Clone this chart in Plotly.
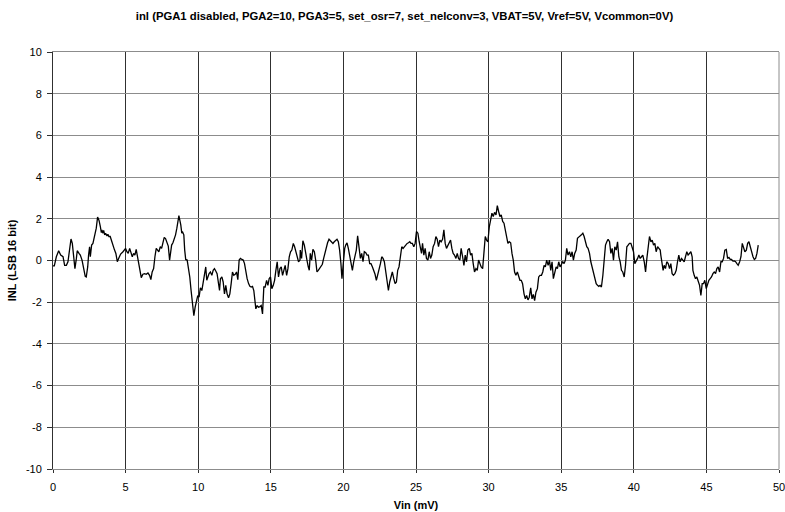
import plotly.graph_objects as go

vin_mv = [
    0.00, 0.09, 0.23, 0.39, 0.53, 0.69, 0.80, 0.92, 1.03, 1.15, 1.24, 1.33, 1.42, 1.51, 1.61, 1.67, 1.79, 1.88, 2.00, 2.11,
    2.22, 2.29, 2.39, 2.45, 2.52, 2.57, 2.66, 2.75, 2.87, 2.98, 3.07, 3.17, 3.26, 3.33, 3.37, 3.44, 3.49, 3.56, 3.62, 3.72,
    3.78, 3.85, 3.94, 4.04, 4.13, 4.24, 4.33, 4.43, 4.52, 4.66, 4.82, 4.93, 5.00, 5.09, 5.18, 5.28, 5.37, 5.46, 5.55, 5.64,
    5.73, 5.83, 5.92, 6.01, 6.08, 6.19, 6.31, 6.42, 6.54, 6.65, 6.74, 6.83, 6.93, 7.02, 7.11, 7.20, 7.29, 7.39, 7.48, 7.57,
    7.66, 7.75, 7.84, 7.94, 8.03, 8.10, 8.17, 8.26, 8.35, 8.44, 8.53, 8.60, 8.67,
    8.80, 8.87, 8.91, 9.01, 9.07, 9.14, 9.24, 9.33, 9.42, 9.51, 9.60, 9.70, 9.79, 9.88, 9.97, 10.06, 10.15, 10.25, 10.34, 10.43,
    10.52, 10.59, 10.66, 10.75, 10.84, 10.94, 11.03, 11.12, 11.21, 11.30, 11.40, 11.47, 11.53, 11.63, 11.72, 11.81, 11.90, 11.99, 12.09, 12.18,
    12.27, 12.36, 12.45, 12.55, 12.64, 12.73, 12.82, 12.91, 13.01, 13.10, 13.19, 13.28, 13.37, 13.47, 13.56, 13.65, 13.74, 13.83, 13.90, 13.97,
    14.06, 14.15, 14.25, 14.34, 14.43, 14.52, 14.61, 14.71, 14.80, 14.89, 14.98, 15.07, 15.17, 15.26, 15.35, 15.44, 15.53, 15.63, 15.72, 15.81,
    15.90, 15.99, 16.09, 16.18, 16.27, 16.36, 16.45, 16.55, 16.64, 16.73, 16.82, 16.91, 17.01,
    17.03, 17.12, 17.21, 17.31, 17.40, 17.49, 17.58, 17.65, 17.72, 17.81, 17.90, 18.00, 18.09, 18.18, 18.27, 18.36, 18.45, 18.55, 18.64, 18.73,
    18.82, 18.91, 19.01, 19.10, 19.19, 19.28, 19.37, 19.47, 19.56, 19.65, 19.74, 19.83, 19.90, 19.97, 20.02, 20.09, 20.16, 20.25, 20.34, 20.43,
    20.52, 20.62, 20.71, 20.80, 20.89, 20.98, 21.08, 21.17, 21.26, 21.35, 21.44, 21.54, 21.63, 21.72, 21.81, 21.90, 22.00, 22.09, 22.18, 22.27,
    22.36, 22.45, 22.55, 22.64, 22.73, 22.82, 22.91, 23.01, 23.10, 23.19, 23.28, 23.37, 23.47, 23.56, 23.65, 23.74, 23.83, 23.93, 24.02, 24.11,
    24.20, 24.29, 24.39, 24.48, 24.57, 24.66, 24.75, 24.85, 24.94, 25.03,
    25.13, 25.22, 25.31, 25.38, 25.45, 25.54, 25.63, 25.72, 25.82, 25.91, 26.00, 26.09, 26.18, 26.28, 26.37, 26.46, 26.55, 26.64, 26.73, 26.83,
    26.92, 27.01, 27.10, 27.19, 27.29, 27.38, 27.47, 27.56, 27.65, 27.75, 27.84, 27.93, 28.02, 28.11, 28.21, 28.30, 28.39, 28.48, 28.57, 28.67,
    28.76, 28.85, 28.94, 29.03, 29.13, 29.22, 29.31, 29.40, 29.49, 29.59, 29.68, 29.77, 29.86, 29.95, 30.05, 30.14, 30.23, 30.32, 30.41, 30.51,
    30.60, 30.69, 30.78, 30.87, 30.97, 31.06, 31.15, 31.24, 31.33, 31.42, 31.52, 31.61, 31.70, 31.79, 31.88, 31.98, 32.07, 32.16, 32.25, 32.34,
    32.44, 32.53, 32.62, 32.71, 32.80, 32.90, 32.99, 33.08, 33.17, 33.26, 33.36, 33.45, 33.54,
    33.64, 33.73, 33.82, 33.91, 34.00, 34.10, 34.19, 34.28, 34.37, 34.46, 34.56, 34.65, 34.74, 34.83, 34.92, 35.01, 35.11, 35.20, 35.29, 35.38,
    35.47, 35.57, 35.66, 35.75, 35.84, 35.93, 36.03, 36.12, 36.21, 36.30, 36.39, 36.49, 36.58, 36.67, 36.76, 36.85, 36.95, 37.04, 37.13, 37.22,
    37.31, 37.41, 37.50, 37.59, 37.68, 37.77, 37.87, 37.96, 38.05, 38.14, 38.23, 38.33, 38.42, 38.51, 38.60, 38.69, 38.79, 38.88, 38.97, 39.06,
    39.15, 39.24, 39.34, 39.43, 39.52, 39.61, 39.70, 39.80, 39.89, 39.98, 40.07, 40.16, 40.26, 40.35, 40.44, 40.53, 40.62, 40.72, 40.81, 40.90,
    40.99, 41.08, 41.18, 41.27, 41.36, 41.45, 41.54, 41.64, 41.73, 41.82,
    41.86, 41.95, 42.02, 42.09, 42.18, 42.27, 42.37, 42.46, 42.55, 42.64, 42.73, 42.83, 42.92, 43.01, 43.10, 43.19, 43.29, 43.38, 43.47, 43.56,
    43.65, 43.74, 43.84, 43.93, 44.02, 44.07, 44.16, 44.25, 44.34, 44.43, 44.53, 44.62, 44.71, 44.80, 44.89, 44.99, 45.08, 45.17, 45.26, 45.35,
    45.45, 45.54, 45.63, 45.72, 45.81, 45.91, 46.00, 46.09, 46.18, 46.27, 46.37, 46.46, 46.55, 46.64, 46.73, 46.83, 46.92, 47.01, 47.10, 47.19,
    47.29, 47.38, 47.47, 47.56, 47.65, 47.75, 47.84, 47.93, 48.02, 48.11, 48.21, 48.30, 48.39, 48.48, 48.57,
]

inl_lsb = [
    -0.26, -0.26, 0.18, 0.47, 0.26, 0.18, -0.23, -0.23, -0.06, 0.50, 1.03, 0.82, 0.26, -0.39, 0.10, 0.47, 0.34, 0.26, 0.02, -0.47,
    -0.76, -0.79, -0.31, 0.26, 0.66, 0.18, 0.74, 0.82, 1.15, 1.55, 2.08, 1.92, 1.63, 1.34, 1.47, 1.31, 1.44, 1.23, 1.31, 1.18,
    1.26, 1.15, 1.15, 0.90, 0.66, 0.50, 0.34, -0.06, 0.10, 0.31, 0.42, 0.53, 0.58, 0.42, 0.34, 0.58, 0.34, 0.18, 0.34, 0.26,
    0.53, 0.18, -0.15, -0.47, -0.82, -0.66, -0.63, -0.66, -0.60, -0.71, -0.92, -0.55, -0.39, 0.18, 0.58, 0.50, 0.42, 0.66, 0.58, 0.85,
    1.11, 1.05, 0.82, 0.69, 0.02, 0.58, 0.74, 0.85, 1.02, 1.23, 1.55, 1.92, 2.15,
    1.71, 1.31, 1.39, 1.23, 0.50, 0.05, 0.02, -0.31, -0.79, -1.44, -2.08, -2.65, -2.24, -1.92, -1.68, -1.76, -1.31, -1.44, -1.11, -0.79,
    -0.31, -0.95, -0.79, -0.63, -0.55, -0.71, -0.47, -0.39, -0.50, -0.63, -1.11, -1.44, -0.87, -0.79, -1.03, -1.60, -1.19, -1.60, -1.79, -1.60,
    -1.11, -0.55, -0.71, -0.66, -0.55, -0.92, 0.02, 0.10, 0.05, 0.02, -0.15, -0.60, -0.87, -1.11, -1.24, -1.27, -1.24, -1.44, -2.08, -2.32,
    -2.16, -2.24, -2.21, -2.16, -2.56, -1.27, -1.27, -0.95, -1.19, -0.87, -0.79, -1.35, -1.19, -0.95, -0.47, -0.06, -0.79, -0.39, -0.31, -0.71,
    -0.47, -0.23, -0.71, -0.39, 0.18, 0.42, 0.50, 0.82, 0.66, 0.42, 0.18, -0.06, 0.02,
    0.50, 0.10, 0.95, 0.74, 0.26, 0.02, -0.31, -0.47, 0.34, 0.02, 0.53, 0.42, 0.02, -0.55, -0.47, -0.39, -0.31, -0.18, 0.10, 0.34,
    0.66, 0.85, 1.02, 0.95, 0.85, 0.82, 0.90, 0.98, 1.02, 0.90, 0.50, -0.15, -0.87, -0.31, 0.10, 0.58, 0.74, 0.85, 0.58, 0.26,
    -0.06, -0.47, -0.06, 0.18, 0.50, 1.18, 0.66, 0.10, 0.34, -0.06, 0.42, 0.37, 0.26, 0.26, -0.15, -0.15, -0.31, -0.47, -0.66, -0.95,
    -0.71, -0.47, -0.15, 0.18, 0.10, -0.06, -0.55, -1.11, -1.44, -1.03, -0.79, -0.55, -0.87, -1.11, -1.03, -0.47, -0.31, 0.34, 0.66, 0.58,
    0.66, 0.74, 0.82, 0.85, 0.90, 0.82, 0.82, 0.66, 0.82, 1.39,
    1.31, 0.90, 0.66, 0.34, 0.82, 0.26, 0.58, 0.10, 0.02, 0.42, 0.10, 0.26, 0.66, 0.82, 1.15, 1.02, 0.66, 0.98, 0.90, 1.02,
    1.47, 0.82, 0.58, 0.74, 0.82, 0.98, 0.58, 0.34, 0.26, 0.10, 0.34, 0.10, 0.02, 0.58, 0.18, -0.23, 0.26, -0.06, 0.50, 0.58,
    0.26, 0.34, -0.15, -0.55, -0.39, -0.47, 0.02, -0.15, -0.31, -0.39, 0.34, 1.15, 0.98, 0.90, 1.63, 2.03, 2.27, 2.11, 2.31, 2.19,
    2.63, 2.35, 2.11, 2.19, 1.87, 1.79, 1.39, 1.15, 0.82, 0.90, 0.85, 0.34, 0.02, -0.55, -0.71, -0.55, -0.79, -0.95, -0.95, -1.11,
    -1.60, -1.84, -1.68, -1.89, -1.76, -1.31, -1.84, -1.63, -1.92, -1.52, -1.35, -0.79, -0.71,
    -0.71, -0.55, -0.23, -0.31, 0.02, -0.23, 0.02, -0.47, -0.06, -0.87, -0.47, -0.31, -0.39, -0.06, -0.31, -0.15, -0.06, -0.15, 0.02, 0.58,
    0.26, 0.42, 0.18, 0.42, 0.02, 0.34, 0.50, 1.06, 1.15, 1.18, 1.23, 1.31, 1.15, 0.82, 0.66, 0.58, 0.34, -0.06, -0.31, -0.63,
    -0.95, -1.11, -1.19, -1.24, -1.19, -1.27, -0.71, 0.10, 0.74, 0.90, 1.02, 0.90, 0.34, 0.58, 0.02, 0.66, 0.50, 0.90, 0.18, -0.06,
    -0.47, -0.55, -0.79, -0.23, 0.66, 0.74, 0.82, 0.82, 0.66, 0.42, -0.15, -0.06, 0.10, 0.26, 0.10, 0.18, 0.26, -0.06, -0.55, 0.10,
    0.66, 1.15, 0.90, 0.98, 0.74, 0.82, 0.42, 0.66, 0.58, 0.50,
    0.26, -0.06, -0.47, -0.23, -0.39, -0.06, -0.15, -0.39, -0.15, -0.63, -0.71, -0.63, -0.47, -0.06, 0.26, -0.06, 0.10, 0.02, -0.06, 0.18,
    0.42, 0.26, 0.34, 0.42, 0.18, -0.47, -0.71, -0.87, -0.79, -1.03, -1.19, -1.68, -1.11, -1.11, -0.95, -1.35, -1.11, -0.95, -0.87, -0.79,
    -0.63, -0.55, -0.63, -0.39, -0.31, -0.55, -0.06, -0.06, 0.10, 0.50, 0.53, 0.10, 0.15, 0.05, 0.05, -0.03, -0.02, -0.06, -0.15, -0.23,
    -0.06, 0.18, 0.82, 0.66, 0.42, 0.50, 0.82, 0.90, 0.66, 0.34, 0.18, 0.05, 0.10, 0.34, 0.74,
]

x_ticks = [0, 5, 10, 15, 20, 25, 30, 35, 40, 45, 50]
y_ticks = [-10, -8, -6, -4, -2, 0, 2, 4, 6, 8, 10]

title_text = "inl (PGA1 disabled, PGA2=10, PGA3=5, set_osr=7, set_nelconv=3, VBAT=5V, Vref=5V, Vcommon=0V)"
x_title = "Vin (mV)"
y_title = "INL (LSB 16 bit)"

FONT = "Liberation Sans, Arial, sans-serif"

fig = go.Figure()
fig.add_trace(go.Scatter(
    x=vin_mv, y=inl_lsb, mode="lines",
    line=dict(color="black", width=1.3),
    showlegend=False, hoverinfo="skip",
))

fig.update_layout(
    width=785, height=512,
    margin=dict(l=53, r=6, t=52, b=43),
    paper_bgcolor="white", plot_bgcolor="white",
    font=dict(family=FONT, size=11, color="black"),
    title=dict(text="<b>" + title_text + "</b>", xref="paper", x=(404.5 - 53) / 726,
               xanchor="center", y=1 - 16 / 512, yanchor="middle",
               font=dict(size=11.3)),
)

fig.update_xaxes(
    range=[0, 50], tickvals=x_ticks, ticktext=[str(v) for v in x_ticks],
    showgrid=True, gridcolor="#303030", gridwidth=1,
    showline=True, linecolor="#8c8c8c", linewidth=1, mirror=True,
    ticks="outside", ticklen=3, tickcolor="#303030", ticklabelstandoff=5,
    ticklabeloverflow="allow",
    zeroline=False, automargin=False,
    title=dict(text="<b>" + x_title + "</b>", font=dict(size=11), standoff=9),
)
fig.update_yaxes(
    range=[-10, 10], tickvals=y_ticks, ticktext=[str(v) for v in y_ticks],
    showgrid=True, gridcolor="#8c8c8c", gridwidth=1,
    showline=True, linecolor="#303030", linewidth=1, mirror=False,
    ticks="outside", ticklen=5, tickcolor="#303030", ticklabelstandoff=3,
    ticklabeloverflow="allow",
    zeroline=False, automargin=False,
    title=dict(text="<b>" + y_title + "</b>", font=dict(size=11), standoff=7),
)
# right border of plot area (gray)
fig.add_shape(type="line", xref="paper", yref="paper", x0=1, x1=1, y0=0, y1=1,
              line=dict(color="#8c8c8c", width=1))

fig.write_html("out.html", config={"displayModeBar": False, "staticPlot": True},
               post_script="document.body.style.margin='0';document.body.style.padding='0';")
